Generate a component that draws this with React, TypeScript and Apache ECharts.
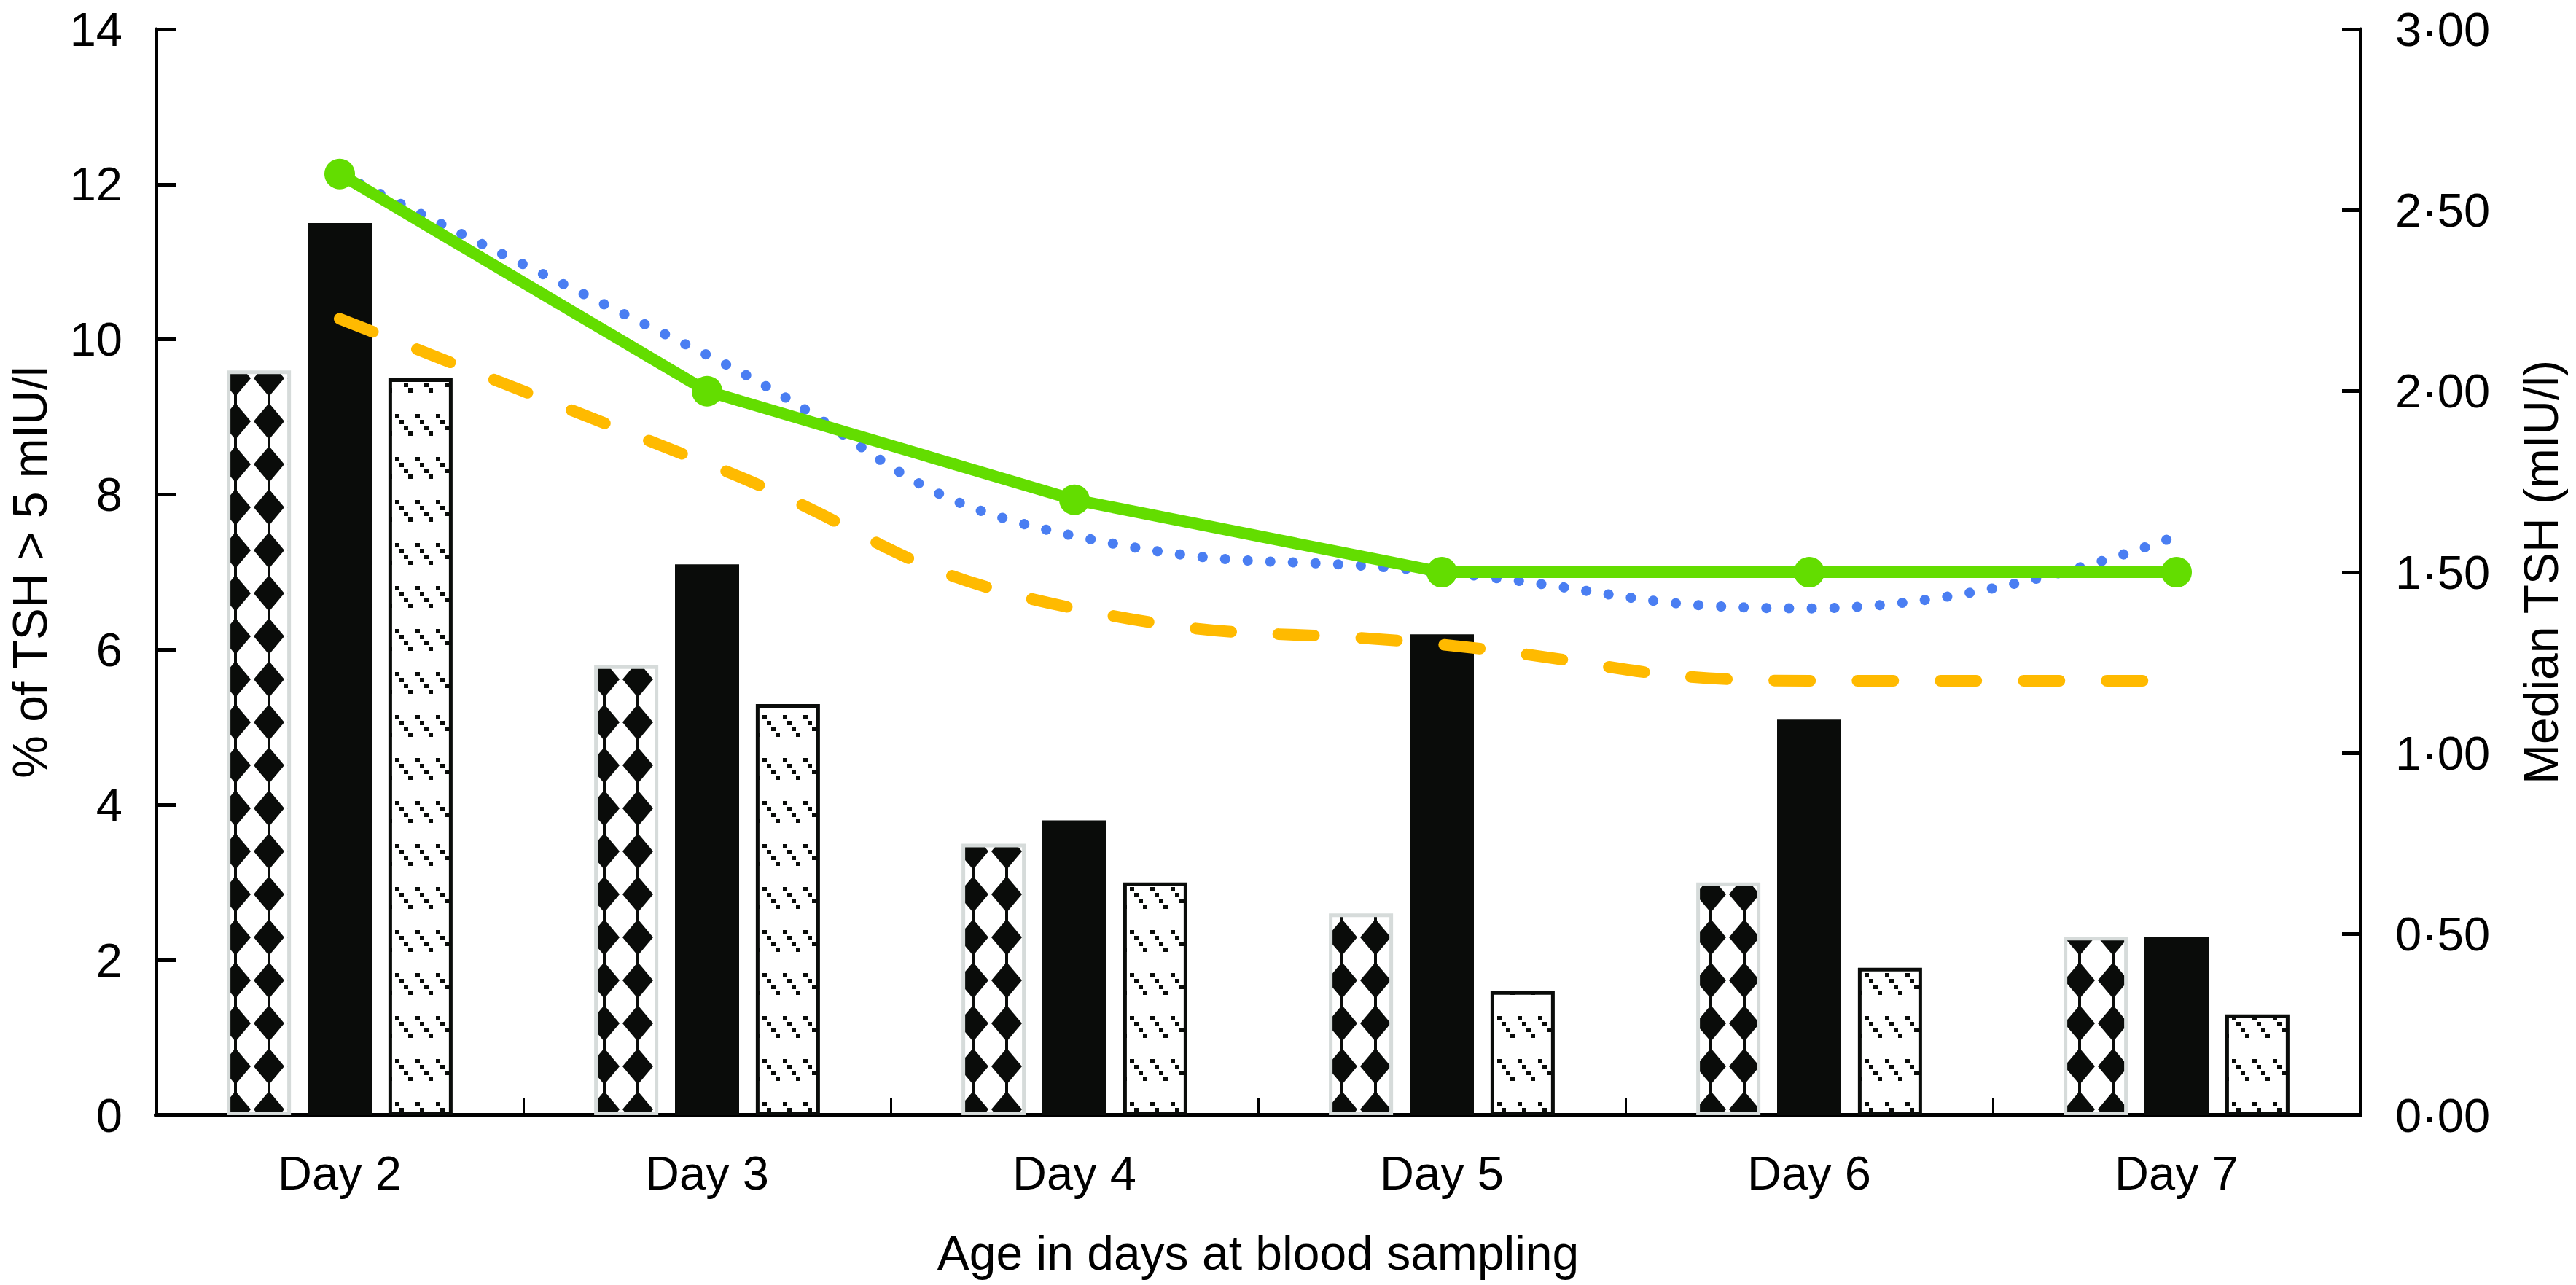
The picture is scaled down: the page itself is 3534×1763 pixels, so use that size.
import React, { useEffect, useRef } from 'react';
import * as echarts from 'echarts';

const categories = ['Day 2', 'Day 3', 'Day 4', 'Day 5', 'Day 6', 'Day 7'];
const diamondBars = [9.6, 5.8, 3.5, 2.6, 3.0, 2.3];
const blackBars = [11.5, 7.1, 3.8, 6.2, 5.1, 2.3];
const dashBars = [9.5, 5.3, 3.0, 1.6, 1.9, 1.3];
const greenLine = [2.6, 2.0, 1.7, 1.5, 1.5, 1.5];
const blueLine = [2.6, 2.1, 1.6, 1.5, 1.4, 1.6];
const orangeLine = [2.2, 1.8, 1.4, 1.3, 1.2, 1.2];
const leftTickLabels = ['0', '2', '4', '6', '8', '10', '12', '14'];
const rightTickLabels = ['0·00', '0·50', '1·00', '1·50', '2·00', '2·50', '3·00'];

const W = 3534;
const H = 1763;
const FONT = "'Liberation Sans', Arial, Helvetica, sans-serif";
const INK = '#0a0c0a';

function makeTile(w: number, h: number, draw: (ctx: CanvasRenderingContext2D) => void) {
  const c = document.createElement('canvas');
  c.width = w;
  c.height = h;
  const ctx = c.getContext('2d') as CanvasRenderingContext2D;
  ctx.fillStyle = '#ffffff';
  ctx.fillRect(0, 0, w, h);
  ctx.fillStyle = INK;
  draw(ctx);
  return { image: c.toDataURL(), repeat: 'repeat', imageWidth: w, imageHeight: h };
}

function diamondPattern() {
  const w = 46, h = 59;
  return makeTile(w, h, (ctx) => {
    const cx0 = 1, cy0 = 47;
    for (let dx = -1; dx <= 1; dx++) {
      for (let dy = -1; dy <= 1; dy++) {
        const cx = cx0 + dx * w;
        const cy = cy0 + dy * h;
        ctx.beginPath();
        ctx.moveTo(cx, cy - 25);
        ctx.lineTo(cx + 21, cy);
        ctx.lineTo(cx, cy + 25);
        ctx.lineTo(cx - 21, cy);
        ctx.closePath();
        ctx.fill();
        ctx.fillRect(cx - 2, cy - 30, 4, 60);
      }
    }
  });
}

function dashPattern() {
  const w = 28, h = 59;
  return makeTile(w, h, (ctx) => {
    const x0 = 10, y0 = 37;
    for (let dx = -1; dx <= 1; dx++) {
      for (let dy = -1; dy <= 1; dy++) {
        for (let k = 0; k < 4; k++) {
          ctx.fillRect(x0 + dx * w + k * 6, y0 + dy * h + k * 8, 6, 6);
        }
      }
    }
  });
}

export default function App() {
  const ref = useRef<HTMLDivElement>(null);

  useEffect(() => {
    document.body.style.margin = '0';
    if (!ref.current) return;
    const chart = echarts.init(ref.current, undefined, { renderer: 'svg' });
    const labelStyle = { fontSize: 65, color: '#000', fontFamily: FONT };
    const option: any = {
      animation: false,
      backgroundColor: '#ffffff',
      grid: { left: 208, right: 296, top: 40, bottom: 233, containLabel: false },
      xAxis: {
        type: 'category',
        data: categories,
        axisLine: { show: true, lineStyle: { color: '#000', width: 6 } },
        axisTick: { show: true, inside: true, length: 23, interval: 0, lineStyle: { color: '#000', width: 3 } },
        axisLabel: { ...labelStyle, margin: 47, interval: 0 },
        splitLine: { show: false },
        name: 'Age in days at blood sampling',
        nameLocation: 'middle',
        nameGap: 156,
        nameTextStyle: { ...labelStyle, fontSize: 66 },
      },
      yAxis: [
        {
          type: 'value',
          position: 'left',
          min: 0,
          max: 14,
          interval: 2,
          splitLine: { show: false },
          axisLine: { show: true, lineStyle: { color: '#000', width: 5 } },
          axisTick: { show: true, inside: true, length: 27, lineStyle: { color: '#000', width: 5 } },
          axisLabel: {
            ...labelStyle,
            margin: 46,
            formatter: (v: number) => leftTickLabels[Math.round(v / 2)] ?? '',
          },
          name: '% of TSH > 5 mIU/l',
          nameLocation: 'middle',
          nameRotate: 90,
          nameGap: 140,
          nameTextStyle: { ...labelStyle, fontSize: 66 },
        },
        {
          type: 'value',
          position: 'right',
          min: 0,
          max: 3,
          interval: 0.5,
          splitLine: { show: false },
          axisLine: { show: true, lineStyle: { color: '#000', width: 5 } },
          axisTick: { show: true, inside: true, length: 25, lineStyle: { color: '#000', width: 5 } },
          axisLabel: {
            ...labelStyle,
            margin: 48,
            formatter: (v: number) => rightTickLabels[Math.round(v / 0.5)] ?? '',
          },
          name: 'Median TSH (mIU/l)',
          nameLocation: 'middle',
          nameRotate: 90,
          nameGap: 215,
          nameTextStyle: { ...labelStyle, fontSize: 66 },
        },
      ],
      series: [
        {
          type: 'bar',
          data: diamondBars,
          barWidth: 88,
          barGap: '26%',
          itemStyle: { color: diamondPattern(), borderColor: '#d6dbda', borderWidth: 5 },
        },
        {
          type: 'bar',
          data: blackBars,
          barWidth: 88,
          barGap: '26%',
          itemStyle: { color: INK },
        },
        {
          type: 'bar',
          data: dashBars,
          barWidth: 88,
          barGap: '26%',
          itemStyle: { color: dashPattern(), borderColor: INK, borderWidth: 5 },
        },
        {
          type: 'line',
          yAxisIndex: 1,
          data: orangeLine,
          smooth: true,
          symbol: 'none',
          lineStyle: { color: '#FFBA00', width: 16, type: [49, 65], cap: 'round' },
        },
        {
          type: 'line',
          yAxisIndex: 1,
          data: blueLine,
          smooth: true,
          symbol: 'none',
          lineStyle: { color: '#4A7EF2', width: 14, type: [0.1, 31], cap: 'round' },
        },
        {
          type: 'line',
          yAxisIndex: 1,
          data: greenLine,
          symbol: 'circle',
          symbolSize: 42,
          itemStyle: { color: '#63DD00' },
          lineStyle: { color: '#63DD00', width: 16 },
        },
      ],
    };
    chart.setOption(option);
    return () => chart.dispose();
  }, []);

  return <div ref={ref} style={{ width: W, height: H }} />;
}
